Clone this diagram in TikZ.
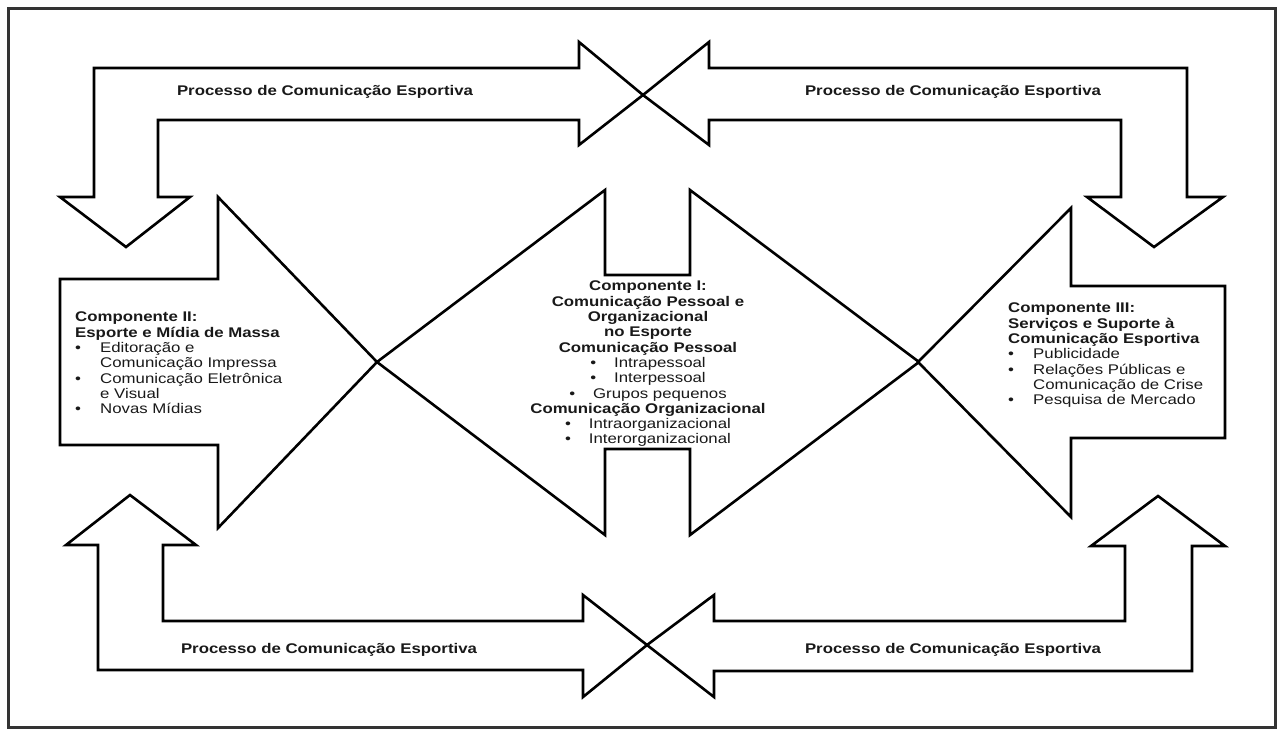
\documentclass[tikz,border=0pt]{standalone}
\usepackage{fontspec}
\setmainfont{Liberation Sans}[FakeStretch=1.2]
\newcommand\bulitem{\makebox[25pt][l]{\textbullet}}
\newcommand\contline{\hspace*{25pt}}
\begin{document}
\begin{tikzpicture}[x=1pt,y=-1pt,
  blockarrow/.style={draw=black,line width=2.6pt,line join=miter,fill=white},
  proclbl/.style={font=\fontsize{14}{15.3}\selectfont\bfseries,text=black!90,inner sep=0pt,anchor=base},
  blocktext/.style={font=\fontsize{14}{15.3}\selectfont,text=black!90,inner sep=0pt},
]
\useasboundingbox (0,0) rectangle (1280,729);
\fill[white] (0,0) rectangle (1280,729);
\draw[line width=3pt,black!80] (8,8) rectangle (1275,727);

% top-left process arrow
\draw[blockarrow] (579,42) -- (643,95) -- (579,145) -- (579,120) -- (158,120) -- (158,197)
  -- (190,197) -- (126,247) -- (60,197) -- (94,197) -- (94,68) -- (579,68) -- cycle;
% top-right process arrow
\draw[blockarrow] (709,42) -- (643,95) -- (709,145) -- (709,120) -- (1121,120) -- (1121,197)
  -- (1087,197) -- (1154,247) -- (1223,197) -- (1187,197) -- (1187,68) -- (709,68) -- cycle;
% bottom-left process arrow
\draw[blockarrow] (583,595) -- (647,645) -- (583,697) -- (583,670) -- (98,670) -- (98,545)
  -- (66,545) -- (130,495) -- (196,545) -- (163,545) -- (163,621) -- (583,621) -- cycle;
% bottom-right process arrow
\draw[blockarrow] (714,595) -- (647,645) -- (714,697) -- (714,671) -- (1192,671) -- (1192,546)
  -- (1225,546) -- (1158,496) -- (1091,546) -- (1125,546) -- (1125,621) -- (714,621) -- cycle;

% component II arrow (points right)
\draw[blockarrow] (60,279) -- (218,279) -- (218,197) -- (377,362) -- (218,528) -- (218,445)
  -- (60,445) -- cycle;
% component I double arrow
\draw[blockarrow] (377,362) -- (605,190) -- (605,275) -- (690,275) -- (690,190) -- (919,362)
  -- (690,535) -- (690,449) -- (605,449) -- (605,535) -- cycle;
% component III arrow (points left)
\draw[blockarrow] (1225,286) -- (1071,286) -- (1071,208) -- (918,362) -- (1071,517)
  -- (1071,438) -- (1225,438) -- cycle;

% process labels
\node[proclbl] (ptl) at (325,95) {Processo de Comunicação Esportiva};
\node[proclbl] (ptr) at (953,95) {Processo de Comunicação Esportiva};
\node[proclbl] (pbl) at (329,653) {Processo de Comunicação Esportiva};
\node[proclbl] (pbr) at (953,653) {Processo de Comunicação Esportiva};

% component texts
\node[blocktext,anchor=north west,align=left] (c2) at (75,312) {%
  \textbf{Componente II:}\\
  \textbf{Esporte e Mídia de Massa}\\
  \bulitem Editoração e\\
  \contline Comunicação Impressa\\
  \bulitem Comunicação Eletrônica\\
  \contline e Visual\\
  \bulitem Novas Mídias};

\node[blocktext,anchor=north,align=center] (c1) at (648,281) {%
  \textbf{Componente I:}\\
  \textbf{Comunicação Pessoal e}\\
  \textbf{Organizacional}\\
  \textbf{no Esporte}\\
  \textbf{Comunicação Pessoal}\\
  \textbullet\hspace{18pt}Intrapessoal\\
  \textbullet\hspace{18pt}Interpessoal\\
  \textbullet\hspace{18pt}Grupos pequenos\\
  \textbf{Comunicação Organizacional}\\
  \textbullet\hspace{18pt}Intraorganizacional\\
  \textbullet\hspace{18pt}Interorganizacional};

\node[blocktext,anchor=north west,align=left] (c3) at (1008,303) {%
  \textbf{Componente III:}\\
  \textbf{Serviços e Suporte à}\\
  \textbf{Comunicação Esportiva}\\
  \bulitem Publicidade\\
  \bulitem Relações Públicas e\\
  \contline Comunicação de Crise\\
  \bulitem Pesquisa de Mercado};
\end{tikzpicture}
\end{document}
